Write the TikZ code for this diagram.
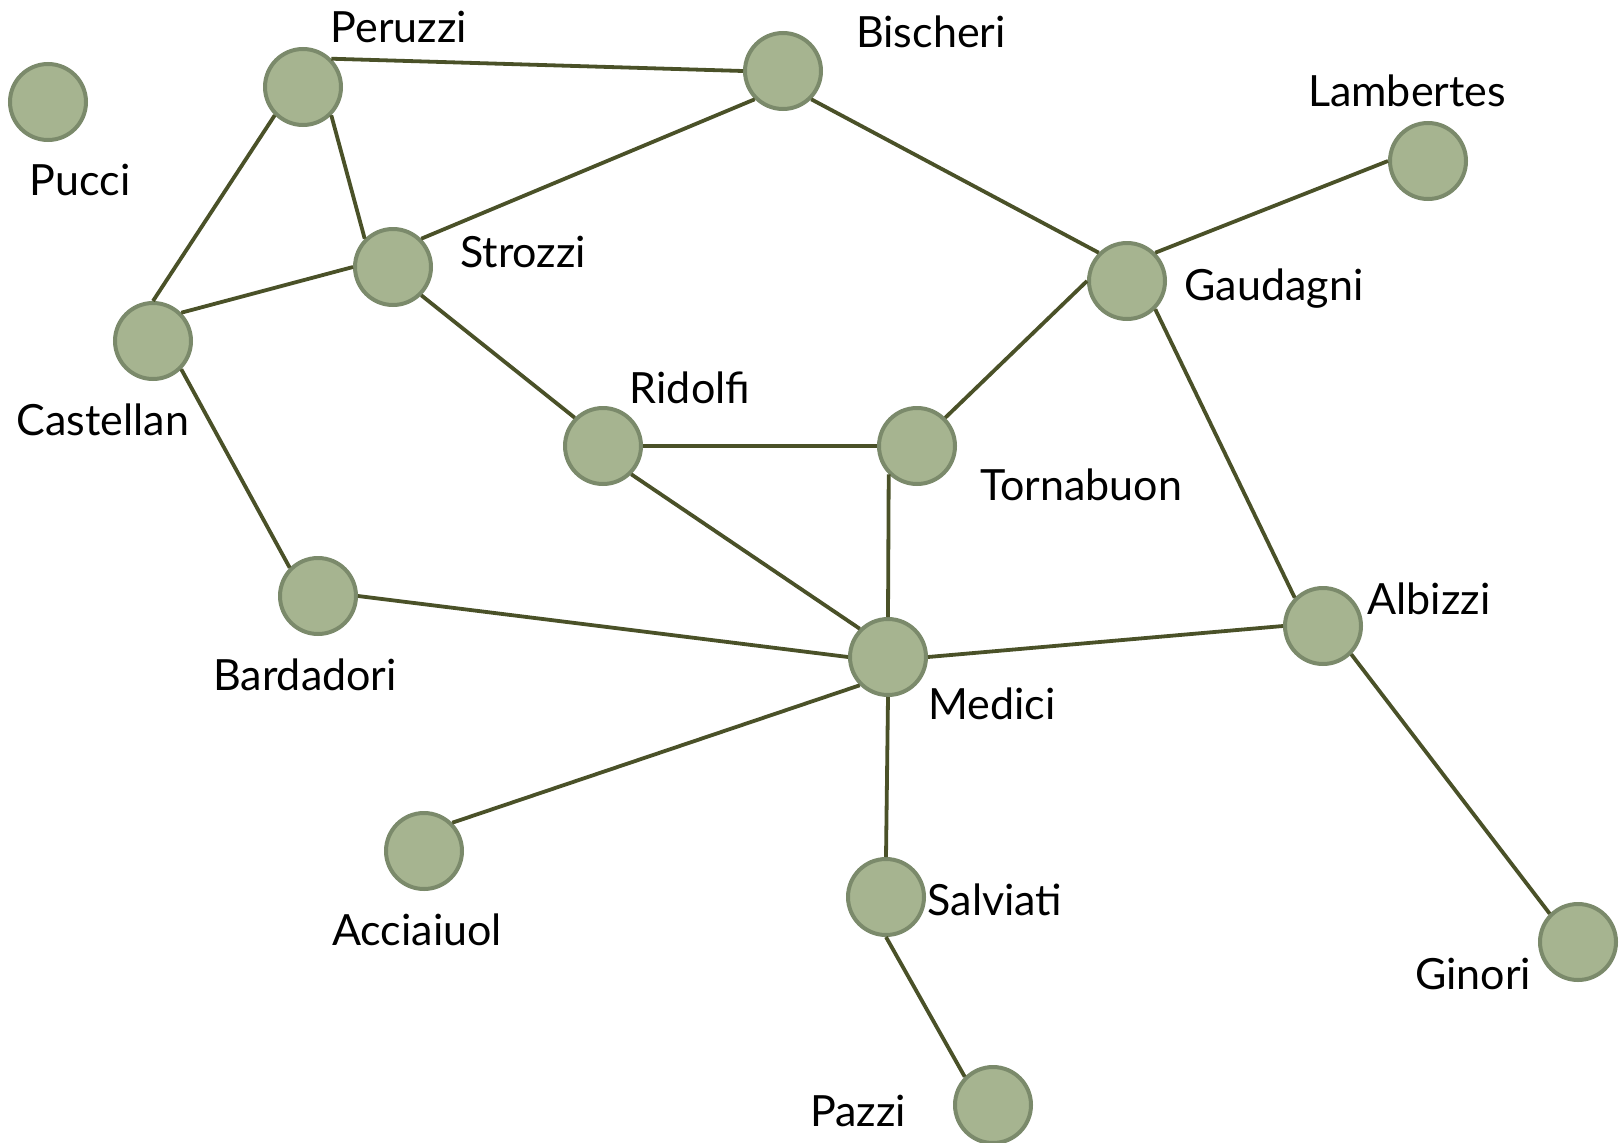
\documentclass[tikz,border=0pt]{standalone}
\usepackage{fontspec}
\setmainfont{Lato}
\definecolor{nodefill}{HTML}{A6B490}
\definecolor{nodeline}{HTML}{7B8A6B}
\definecolor{edgeline}{HTML}{4A5128}
\begin{document}
\begin{tikzpicture}[x=1pt,y=-1pt,
  family/.style={circle,draw=nodeline,fill=nodefill,line width=4pt,minimum size=76pt,inner sep=0pt},
  famlabel/.style={anchor=base,font=\fontsize{43}{43}\selectfont,inner sep=0pt},
  tie/.style={draw=edgeline,line width=3.8pt}]
\useasboundingbox (0,0) rectangle (1620,1143);
% families
\node[family] (pucci) at (48,102) {};
\node[family] (peruzzi) at (303,87) {};
\node[family] (bischeri) at (783,71) {};
\node[family] (lambertes) at (1428,161) {};
\node[family] (strozzi) at (393,267) {};
\node[family] (gaudagni) at (1127,281) {};
\node[family] (castellan) at (153,341) {};
\node[family] (ridolfi) at (603,446) {};
\node[family] (tornabuon) at (917,446) {};
\node[family] (bardadori) at (318,596) {};
\node[family] (albizzi) at (1323,626) {};
\node[family] (medici) at (888,657) {};
\node[family] (acciaiuol) at (424,851) {};
\node[family] (salviati) at (886,897) {};
\node[family] (ginori) at (1578,942) {};
\node[family] (pazzi) at (993,1105) {};
% marriage ties, attached at the circles' compass points
\path[tie] (peruzzi.north east) -- (bischeri.west);
\path[tie] (peruzzi.south east) -- (strozzi.north west);
\path[tie] (peruzzi.south west) -- (castellan.north);
\path[tie] (bischeri.south west) -- (strozzi.north east);
\path[tie] (bischeri.south east) -- (gaudagni.north west);
\path[tie] (lambertes.west) -- (gaudagni.north east);
\path[tie] (strozzi.west) -- (castellan.north east);
\path[tie] (strozzi.south east) -- (ridolfi.north west);
\path[tie] (gaudagni.west) -- (tornabuon.north east);
\path[tie] (gaudagni.south east) -- (albizzi.north west);
\path[tie] (castellan.south east) -- (bardadori.north west);
\path[tie] (ridolfi.east) -- (tornabuon.west);
\path[tie] (ridolfi.south east) -- (medici.north west);
\path[tie] (tornabuon.south west) -- (medici.north);
\path[tie] (bardadori.east) -- (medici.west);
\path[tie] (medici.east) -- (albizzi.west);
\path[tie] (medici.south west) -- (acciaiuol.north east);
\path[tie] (medici.south) -- (salviati.north);
\path[tie] (salviati.south) -- (pazzi.north west);
\path[tie] (albizzi.south east) -- (ginori.north west);
% labels
\node[famlabel] (lpucci) at (80,195) {Pucci};
\node[famlabel] (lperuzzi) at (399,42) {Peruzzi};
\node[famlabel] (lbischeri) at (931,47) {Bischeri};
\node[famlabel] (llambertes) at (1407,106) {Lambertes};
\node[famlabel] (lstrozzi) at (523,267) {Strozzi};
\node[famlabel] (lgaudagni) at (1274,300) {Gaudagni};
\node[famlabel] (lcastellan) at (103,435) {Castellan};
\node[famlabel] (lridolfi) at (690,403) {Ridolfi};
\node[famlabel] (ltornabuon) at (1081,500) {Tornabuon};
\node[famlabel] (lbardadori) at (305,690) {Bardadori};
\node[famlabel] (lalbizzi) at (1429,614) {Albizzi};
\node[famlabel] (lmedici) at (992,719) {Medici};
\node[famlabel] (lacciaiuol) at (417,945) {Acciaiuol};
\node[famlabel] (lsalviati) at (995,915) {Salviati};
\node[famlabel] (lginori) at (1473,989) {Ginori};
\node[famlabel] (lpazzi) at (858,1126) {Pazzi};
\end{tikzpicture}
\end{document}
